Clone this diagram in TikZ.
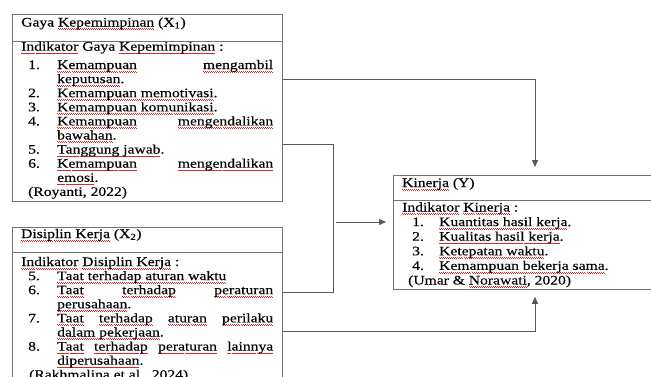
\documentclass[tikz,border=0pt]{standalone}
\usepackage{fontspec}
\setmainfont{Liberation Serif}[FakeStretch=1.2,FakeBold=0.3]
\usetikzlibrary{arrows.meta}
\definecolor{squig}{RGB}{225,40,40}
% red spell-check squiggle under a word
\newcommand\sq[1]{\leavevmode\setbox0=\hbox{#1}\rlap{\textcolor{squig}{\raisebox{-2.6pt}{\hbox to \wd0{\xleaders\hbox{\rule{1pt}{0.7pt}\rule[-0.7pt]{1pt}{0.7pt}}\hfill}}}}\box0\relax}
% item: number indent, text indent, number, text
\newcommand\itm[4]{\par\noindent\hangindent=#2\hangafter=1\makebox[#2][l]{\hspace*{#1}#3}#4}
\tikzset{
  frame/.style={draw=black!55, line width=0.8pt},
  conn/.style={draw=black!65, line width=0.8pt},
  arr/.style={conn, -{Triangle[length=7pt,width=6pt]}, shorten >=8pt},
  txt/.style={anchor=base west, inner sep=0pt, font=\fontsize{13}{14.1}\selectfont},
  boxnode/.style={frame, anchor=north west, inner sep=0pt},
}
\begin{document}
\begin{tikzpicture}[x=1pt,y=-1pt]
\useasboundingbox (0,0) rectangle (651,376);
\clip (0,0) rectangle (651,376);
% boxes
\node[boxnode, minimum width=270pt, minimum height=187pt] (x1) at (12,14) {};
\draw[frame] (12,41) -- (282,41);
\node[boxnode, minimum width=270pt, minimum height=170pt] (x2) at (12,227) {};
\draw[frame] (12,252) -- (282,252);
\node[boxnode, minimum width=270pt, minimum height=114pt] (ky) at (393,175) {};
\draw[frame] (393,200) -- (663,200);
% headers
\node[txt] (h1) at (21,26.5) {Gaya \sq{Kepemimpinan} (X\textsubscript{1})};
\node[txt] (h2) at (21,238) {\sq{Disiplin Kerja} (X\textsubscript{2})};
\node[txt] (hy) at (402,187) {\sq{Kinerja} (Y)};
% bodies
\node[txt] (b1) at (21,50.7) {\parbox[t]{252pt}{\hyphenpenalty=10000 \tolerance=10000 \parindent=0pt
\sq{Indikator} Gaya \sq{Kepemimpinan} :\par\vspace{4.2pt}
\itm{7pt}{36pt}{1.}{\sq{Kemampuan}\hfill\sq{mengambil}\newline\sq{keputusan}.}
\itm{7pt}{36pt}{2.}{\sq{Kemampuan memotivasi}.}
\itm{7pt}{36pt}{3.}{\sq{Kemampuan komunikasi}.}
\itm{7pt}{36pt}{4.}{\sq{Kemampuan}\hfill\sq{mengendalikan}\newline\sq{bawahan}.}
\itm{7pt}{36pt}{5.}{\sq{Tanggung jawab}.}
\itm{7pt}{36pt}{6.}{\sq{Kemampuan}\hfill\sq{mengendalikan}\newline\sq{emosi}.}
\par\noindent\hspace*{7pt}(Royanti, 2022)}};
\node[txt] (b2) at (21,266) {\parbox[t]{252pt}{\hyphenpenalty=10000 \tolerance=10000 \parindent=0pt
\sq{Indikator} \sq{Disiplin Kerja} :
\itm{7pt}{36pt}{5.}{\sq{Taat terhadap aturan waktu}}
\itm{7pt}{36pt}{6.}{\sq{Taat}\hfill\sq{terhadap}\hfill\sq{peraturan}\newline\sq{perusahaan}.}
\itm{7pt}{36pt}{7.}{\sq{Taat}\hfill\sq{terhadap}\hfill\sq{aturan}\hfill\sq{perilaku}\newline\sq{dalam pekerjaan}.}
\itm{7pt}{36pt}{8.}{\sq{Taat}\hfill\sq{terhadap}\hfill\sq{peraturan}\hfill\sq{lainnya}\newline\sq{diperusahaan}.}
\par\noindent\hspace*{8pt}(Rakhmalina et al., 2024)}};
\node[txt, font=\fontsize{13}{14.6}\selectfont] (by) at (402,211.5) {\parbox[t]{240pt}{\hyphenpenalty=10000 \tolerance=10000 \parindent=0pt
\sq{Indikator} \sq{Kinerja} :
\itm{10pt}{37pt}{1.}{\sq{Kuantitas hasil kerja}.}
\itm{10pt}{37pt}{2.}{\sq{Kualitas hasil kerja}.}
\itm{10pt}{37pt}{3.}{\sq{Ketepatan waktu}.}
\itm{10pt}{37pt}{4.}{\sq{Kemampuan bekerja sama}.}
\par\noindent\hspace*{6pt}(Umar \& \sq{Norawati}, 2020)}};
% connector helper coordinates
\coordinate (ya) at (0,79.5);
\coordinate (yb1) at (0,144);
\coordinate (yb2) at (0,292);
\coordinate (yc) at (0,331);
\coordinate (xv) at (535,0);
\coordinate (bx) at (333,0);
\coordinate (bm) at (336,222);
% connectors
\draw[arr] (x1.east |- ya) -| (xv |- ky.north);
\draw[conn] (x1.east |- yb1) -| (bx |- yb2) -- (x2.east |- yb2);
\draw[arr, shorten >=7pt] (bm) -- (ky.west |- bm);
\draw[arr, shorten >=7pt] (x2.east |- yc) -| (xv |- ky.south);
\end{tikzpicture}
\end{document}
